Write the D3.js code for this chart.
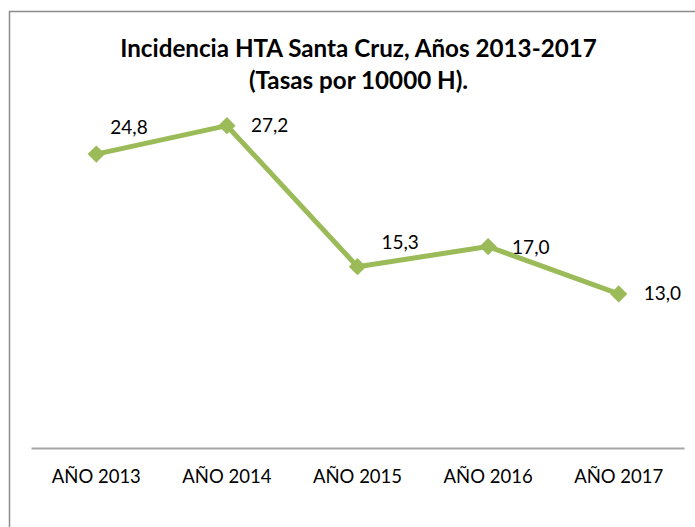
<!DOCTYPE html>
<html>
<head>
<meta charset="utf-8">
<script src="https://cdn.jsdelivr.net/npm/d3@7"></script>
<style>
  html, body { margin: 0; padding: 0; background: #fff; }
  svg { display: block; }
  text { font-family: Lato, "Open Sans", sans-serif; fill: #000; }
</style>
</head>
<body>
<script>
// Incidence of hypertension (HTA) in Santa Cruz, rate per 10 000 inhabitants
const categories = ["AÑO 2013", "AÑO 2014", "AÑO 2015", "AÑO 2016", "AÑO 2017"];
const rates = [24.8, 27.2, 15.3, 17.0, 13.0];
const titleLines = ["Incidencia HTA Santa Cruz, Años 2013-2017", "(Tasas por 10000 H)."];

// Per-label nudges (dx, dy) from each marker, in pixels
const labelNudge = [[14, -20], [24, 6], [24, -18], [24, 7], [25, 6]];

const W = 695, H = 527;
const green = "#9BBB59";

const svg = d3.select("body").append("svg")
  .attr("width", W).attr("height", H);

// Chart frame (extends past the right and bottom edges)
svg.append("rect")
  .attr("x", 9.5).attr("y", 11.5)
  .attr("width", W + 20).attr("height", H + 20)
  .attr("fill", "#fff")
  .attr("stroke", "#8c8c8c")
  .attr("stroke-width", 1.5);

// Title
svg.append("g").selectAll("text")
  .data(titleLines)
  .join("text")
  .attr("x", 358.5)
  .attr("y", (d, i) => 57 + i * 32)
  .attr("text-anchor", "middle")
  .attr("font-weight", 700)
  .attr("font-size", 24.2)
  .text(d => d);

const x = d3.scaleBand().domain(categories).range([31, 684]);
const y = d3.scaleLinear().domain([0, 30]).range([448, 92.5]);
const cx = d => x(d) + x.bandwidth() / 2;

// Category axis
const axis = svg.append("g")
  .attr("transform", `translate(0,${y(0)})`)
  .call(d3.axisBottom(x).tickSize(0).tickPadding(21.5));
axis.select(".domain")
  .attr("stroke", "#a6a6a6")
  .attr("stroke-width", 2);
axis.selectAll("text")
  .attr("font-family", "Lato, sans-serif")
  .attr("font-size", 18.5)
  .attr("fill", "#000");

const pts = categories.map((c, i) => ({ c, v: rates[i], i }));

// Line
svg.append("path")
  .datum(pts)
  .attr("fill", "none")
  .attr("stroke", green)
  .attr("stroke-width", 5)
  .attr("stroke-linejoin", "round")
  .attr("d", d3.line().x(d => cx(d.c)).y(d => y(d.v)));

// Diamond markers
svg.append("g").selectAll("path")
  .data(pts)
  .join("path")
  .attr("transform", d => `translate(${cx(d.c)},${y(d.v)}) rotate(45)`)
  .attr("d", d3.symbol(d3.symbolSquare, 150))
  .attr("fill", green);

// Value labels
const fmt = v => v.toFixed(1).replace(".", ",");
svg.append("g").selectAll("text")
  .data(pts)
  .join("text")
  .attr("x", d => cx(d.c) + labelNudge[d.i][0])
  .attr("y", d => y(d.v) + labelNudge[d.i][1])
  .attr("font-size", 19)
  .text(d => fmt(d.v));
</script>
</body>
</html>
